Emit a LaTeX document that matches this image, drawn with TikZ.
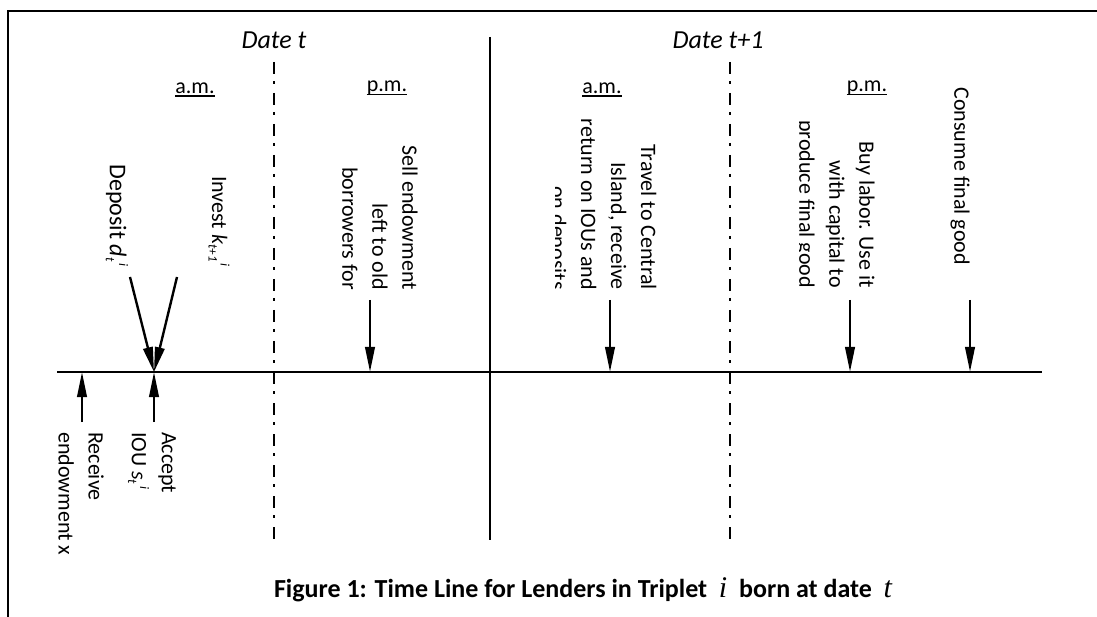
\documentclass[tikz,border=0pt]{standalone}
\usepackage{fontspec}
\setmainfont{Carlito}
\newfontfamily\tnr{Liberation Serif}
\usetikzlibrary{arrows.meta}
\tikzset{
  txt/.style={font=\fontsize{22}{30}\selectfont, inner sep=0pt},
  vtxt/.style={txt, rotate=-90},
  datelbl/.style={font=\fontsize{26}{30}\selectfont\itshape, inner sep=0pt},
  frame/.style={line width=2pt},
  tl/.style={line width=2.8pt},
  vsolid/.style={line width=2.4pt},
  divider/.style={line width=2.4pt, dash pattern=on 12pt off 7pt on 3pt off 9pt},
  arr/.style={line width=2.4pt, -{Triangle[length=25pt,width=9.5pt]}},
  uline/.style={line width=1.8pt},
}
\newcommand\ssp[2]{\raisebox{-0.35ex}{\fontsize{13}{13}\selectfont\itshape #1}\raisebox{0.8ex}{\fontsize{13}{13}\selectfont\itshape\,#2}}
\begin{document}
\begin{tikzpicture}[x=1pt,y=-1pt]
\useasboundingbox (0,0) rectangle (1097,617);
% frame
\coordinate (frBL) at (8,617);
\coordinate (frTL) at (8,11);
\coordinate (frTR) at (1097,11);
\draw[frame] (frBL) -- (frTL) -- (frTR);
% time line
\coordinate (tlL) at (57,372);
\coordinate (tlR) at (1042,372);
\draw[tl] (tlL) -- (tlR);
% dividers
\coordinate (d1T) at (274,62);  \coordinate (d1B) at (274,540);
\coordinate (d2T) at (730,62);  \coordinate (d2B) at (730,540);
\coordinate (mT) at (490,37);   \coordinate (mB) at (490,540);
\draw[divider] (d1T) -- (d1B);
\draw[divider] (d2T) -- (d2B);
\draw[vsolid] (mT) -- (mB);
% dates
\node[datelbl] (datet) at (274,40) {Date t};
\node[datelbl] (datet1) at (718,40) {Date t+1};
% periods
\node[txt] (am1) at (195,88) {a.m.};
\node[txt] (pm1) at (387,88) {p.m.};
\node[txt] (am2) at (602,88) {a.m.};
\node[txt] (pm2) at (867,88) {p.m.};
\foreach \n in {am1,pm1,am2,pm2}{
  \draw[uline] ([yshift=-3pt]\n.base west) -- ([yshift=-3pt]\n.base east);
}
% events above
\node[vtxt, font=\fontsize{24}{30}\selectfont, anchor=east] (deposit) at (117,267) {Deposit {\itshape d}\ssp{t}{i}};
\node[vtxt, anchor=east] (invest) at (219,267) {Invest {\itshape k}\ssp{t+1}{i}};
\begin{scope}
  \clip (335,100) rectangle (440,320);
  \node[vtxt, align=right, anchor=east] (sell) at (380,290) {Sell endowment\\left to old\\borrowers for};
\end{scope}
\begin{scope}
  \clip (555,100) rectangle (680,320);
  \node[vtxt, align=right, anchor=east] (travel) at (602,290) {Travel to Central\\Island, receive\\return on IOUs and\\on deposits};
\end{scope}
\begin{scope}
  \clip (799,100) rectangle (900,320);
  \node[vtxt, align=right, anchor=east] (buy) at (835,288) {Buy labor. Use it\\with capital to\\produce final good};
\end{scope}
\node[vtxt, anchor=east] (consume) at (960,265) {Consume final good};
% events below
\node[vtxt, align=left, anchor=west] (accept) at (152,432) {Accept\\IOU {\itshape s}\ssp{t}{i}};
\node[vtxt, align=left, anchor=west] (receive) at (81,432) {Receive\\endowment x};
% arrows
\coordinate (depS) at (130,277);
\coordinate (invS) at (177,277);
\coordinate (hitA) at (154,372);
\draw[arr] (depS) -- (hitA);
\draw[arr] (invS) -- (hitA);
\coordinate (sellS) at (370,300); \coordinate (sellH) at (370,372);
\coordinate (travS) at (610,300); \coordinate (travH) at (610,372);
\coordinate (buyS) at (850,300);  \coordinate (buyH) at (850,372);
\coordinate (consS) at (970,300); \coordinate (consH) at (970,372);
\draw[arr] (sellS) -- (sellH);
\draw[arr] (travS) -- (travH);
\draw[arr] (buyS) -- (buyH);
\draw[arr] (consS) -- (consH);
\coordinate (recS) at (82,422);  \coordinate (recH) at (82,372);
\coordinate (accS) at (154,422); \coordinate (accH) at (154,372);
\draw[arr] (recS) -- (recH);
\draw[arr] (accS) -- (accH);
% caption
\node[font=\fontsize{26}{30}\selectfont\bfseries, inner sep=0pt] (caption) at (583,590)
  {Figure 1: Time Line for Lenders in Triplet\ \ {\tnr\mdseries\itshape\fontsize{30}{30}\selectfont i}\ \ born at date\ \ {\tnr\mdseries\itshape\fontsize{30}{30}\selectfont t}};
\end{tikzpicture}
\end{document}
